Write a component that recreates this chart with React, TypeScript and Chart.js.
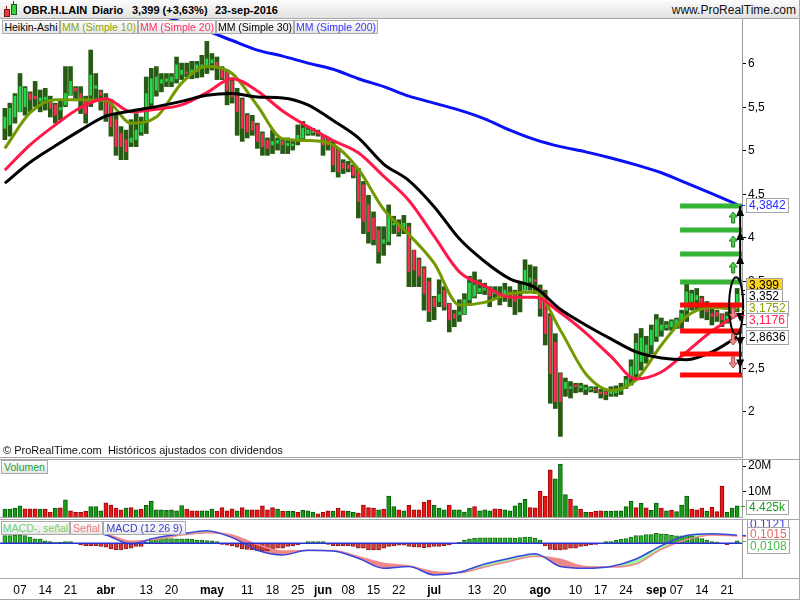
import React, { useEffect, useRef } from "react";
import { Chart, registerables } from "chart.js";

Chart.register(...registerables);

const FONT = '"Liberation Sans", Arial, Helvetica, sans-serif';
Chart.defaults.font.family = FONT;

// ---------- header info ----------
const SYMBOL = "OBR.H.LAIN";
const PERIOD = "Diario";
const LAST_CLOSE = 3.399;
const LAST_CHANGE_PCT = 3.63;
const LAST_DATE_TEXT = "23-sep-2016";

// ---------- trading calendar ----------
const FIRST_DAY = "2016-03-02";
const LAST_DAY = "2016-09-23";
const HOLIDAYS = ["2016-03-25", "2016-03-28"];

function buildDays(): string[] {
  const out: string[] = [];
  const d = new Date(FIRST_DAY + "T00:00:00Z");
  const end = new Date(LAST_DAY + "T00:00:00Z");
  while (d <= end) {
    const iso = d.toISOString().slice(0, 10);
    const wd = d.getUTCDay();
    if (wd !== 0 && wd !== 6 && !HOLIDAYS.includes(iso)) out.push(iso);
    d.setUTCDate(d.getUTCDate() + 1);
  }
  return out;
}
const DAYS = buildDays();
const DAY_INDEX = new Map(DAYS.map((d, i) => [d, i] as [string, number]));

const DATE_TICKS: [string, string][] = [
  ["2016-03-07", "07"], ["2016-03-14", "14"], ["2016-03-21", "21"], ["2016-04-01", "abr"],
  ["2016-04-13", "13"], ["2016-04-20", "20"], ["2016-05-02", "may"], ["2016-05-11", "11"],
  ["2016-05-18", "18"], ["2016-05-25", "25"], ["2016-06-01", "jun"], ["2016-06-08", "08"],
  ["2016-06-15", "15"], ["2016-06-22", "22"], ["2016-07-01", "jul"], ["2016-07-13", "13"],
  ["2016-07-20", "20"], ["2016-08-01", "ago"], ["2016-08-10", "10"], ["2016-08-17", "17"],
  ["2016-08-24", "24"], ["2016-09-01", "sep"], ["2016-09-07", "07"], ["2016-09-14", "14"],
  ["2016-09-21", "21"],
];
const MONTH_LABELS = ["abr", "may", "jun", "jul", "ago", "sep"];

// ---------- Heikin-Ashi candles ----------
const HA_OPEN = [
  5.26, 5.30, 5.39, 5.45, 5.51, 5.66, 5.63, 5.57, 5.59, 5.57,
  5.53, 5.47, 5.53, 5.64, 5.72, 5.66, 5.57, 5.64, 5.72, 5.68,
  5.61, 5.55, 5.36, 5.20, 5.13, 5.10, 5.13, 5.22, 5.36, 5.55,
  5.70, 5.78, 5.80, 5.80, 5.83, 5.88, 5.91, 5.90, 5.91, 5.95,
  5.99, 6.01, 6.02, 5.95, 5.91, 5.80, 5.66, 5.59, 5.41, 5.34,
  5.30, 5.20, 5.12, 5.07, 5.09, 5.11, 5.06, 5.06, 5.13, 5.15,
  5.20, 5.21, 5.21, 5.18, 5.13, 5.07, 5.01, 4.86, 4.84, 4.82,
  4.76, 4.61, 4.38, 4.23, 4.09, 3.94, 3.96, 4.15, 4.15, 4.11,
  4.13, 3.86, 3.75, 3.65, 3.50, 3.31, 3.27, 3.40, 3.24, 3.13,
  3.12, 3.13, 3.29, 3.33, 3.38, 3.40, 3.40, 3.36, 3.36, 3.36,
  3.38, 3.35, 3.30, 3.40, 3.50, 3.52, 3.42, 3.36, 3.10, 2.80,
  2.44, 2.27, 2.27, 2.31, 2.28, 2.26, 2.26, 2.26, 2.23, 2.23,
  2.21, 2.22, 2.24, 2.29, 2.39, 2.44, 2.58, 2.64, 2.77, 2.87,
  2.94, 2.97, 2.98, 3.00, 3.04, 3.17, 3.27, 3.29, 3.31, 3.23,
  3.13, 3.15, 3.12, 3.07, 3.21, 3.19,
];
const HA_HIGH = [
  5.49, 5.55, 5.66, 5.89, 5.74, 5.68, 5.80, 5.70, 5.72, 5.63,
  5.55, 5.59, 5.97, 5.97, 5.74, 5.74, 5.63, 6.16, 5.89, 5.70,
  5.66, 5.59, 5.43, 5.28, 5.24, 5.36, 5.43, 5.39, 5.85, 5.95,
  5.97, 5.89, 5.89, 5.89, 6.08, 6.01, 6.01, 6.03, 6.03, 6.10,
  6.26, 6.12, 6.08, 5.97, 5.93, 5.84, 5.72, 5.61, 5.43, 5.41,
  5.32, 5.22, 5.15, 5.24, 5.15, 5.13, 5.15, 5.11, 5.30, 5.34,
  5.28, 5.26, 5.24, 5.18, 5.15, 5.11, 5.03, 4.90, 4.88, 4.84,
  4.80, 4.65, 4.49, 4.30, 4.13, 4.13, 4.38, 4.25, 4.21, 4.26,
  4.17, 3.86, 3.77, 3.67, 3.54, 3.33, 3.52, 3.44, 3.25, 3.17,
  3.29, 3.36, 3.56, 3.61, 3.52, 3.48, 3.44, 3.44, 3.44, 3.48,
  3.44, 3.40, 3.48, 3.75, 3.69, 3.67, 3.46, 3.40, 3.13, 2.90,
  2.45, 2.39, 2.35, 2.33, 2.33, 2.31, 2.29, 2.29, 2.26, 2.25,
  2.29, 2.30, 2.33, 2.41, 2.60, 2.90, 2.96, 2.87, 3.00, 3.12,
  3.08, 3.04, 3.06, 3.08, 3.17, 3.48, 3.40, 3.42, 3.33, 3.27,
  3.19, 3.17, 3.13, 3.15, 3.23, 3.42,
];
const HA_LOW = [
  5.13, 5.17, 5.32, 5.45, 5.41, 5.45, 5.51, 5.45, 5.47, 5.39,
  5.32, 5.36, 5.51, 5.64, 5.59, 5.43, 5.32, 5.51, 5.59, 5.47,
  5.34, 5.17, 4.95, 4.90, 4.90, 5.05, 5.05, 5.18, 5.20, 5.51,
  5.63, 5.68, 5.74, 5.74, 5.78, 5.82, 5.85, 5.83, 5.84, 5.85,
  5.89, 5.93, 5.82, 5.82, 5.53, 5.55, 5.18, 5.11, 5.15, 5.18,
  5.03, 4.95, 4.95, 4.97, 5.01, 4.97, 4.97, 5.01, 5.07, 5.11,
  5.18, 5.18, 5.17, 4.95, 5.01, 4.76, 4.70, 4.74, 4.76, 4.69,
  4.23, 4.05, 3.94, 3.92, 3.71, 3.80, 3.92, 4.05, 4.02, 4.05,
  3.44, 3.44, 3.44, 3.17, 3.04, 3.06, 3.21, 3.17, 2.92, 2.98,
  3.04, 3.12, 3.23, 3.31, 3.36, 3.35, 3.21, 3.31, 3.23, 3.27,
  3.21, 3.12, 3.15, 3.40, 3.40, 3.36, 3.10, 2.77, 2.10, 2.04,
  1.72, 2.18, 2.16, 2.22, 2.23, 2.20, 2.23, 2.22, 2.16, 2.14,
  2.18, 2.18, 2.20, 2.27, 2.31, 2.37, 2.48, 2.56, 2.67, 2.81,
  2.87, 2.94, 2.94, 2.96, 2.96, 3.04, 3.17, 3.17, 3.08, 3.06,
  3.00, 3.04, 2.98, 3.02, 3.08, 3.15,
];
const HA_CLOSE = [
  5.39, 5.49, 5.63, 5.74, 5.72, 5.59, 5.60, 5.61, 5.62, 5.49,
  5.41, 5.50, 5.66, 5.80, 5.69, 5.59, 5.43, 5.87, 5.75, 5.64,
  5.43, 5.28, 5.05, 5.05, 4.99, 5.15, 5.24, 5.30, 5.66, 5.83,
  5.85, 5.82, 5.83, 5.85, 5.99, 5.93, 5.89, 5.93, 5.99, 5.99,
  6.06, 6.05, 5.98, 5.84, 5.70, 5.62, 5.45, 5.26, 5.22, 5.24,
  5.11, 5.05, 5.03, 5.11, 5.12, 5.07, 5.09, 5.08, 5.18, 5.26,
  5.24, 5.23, 5.20, 5.07, 5.07, 4.84, 4.76, 4.80, 4.80, 4.72,
  4.42, 4.19, 4.07, 3.98, 3.84, 3.98, 4.28, 4.17, 4.07, 4.17,
  3.61, 3.63, 3.56, 3.36, 3.15, 3.21, 3.35, 3.21, 3.06, 3.08,
  3.15, 3.29, 3.48, 3.46, 3.42, 3.42, 3.33, 3.38, 3.33, 3.40,
  3.34, 3.27, 3.32, 3.63, 3.54, 3.50, 3.19, 2.90, 2.44, 2.12,
  2.12, 2.34, 2.29, 2.29, 2.30, 2.28, 2.27, 2.25, 2.21, 2.20,
  2.24, 2.25, 2.28, 2.37, 2.52, 2.79, 2.85, 2.77, 2.94, 3.06,
  3.00, 3.00, 3.04, 3.06, 3.13, 3.38, 3.36, 3.34, 3.23, 3.15,
  3.10, 3.10, 3.06, 3.10, 3.15, 3.352,
];

// ---------- moving averages (read every 5 sessions) ----------
const MA_STEP = 5;
const MA10 = [5.03, 5.44, 5.59, 5.59, 5.58, 5.32, 5.39, 5.78, 5.97, 5.89, 5.52, 5.14, 5.12, 5.07, 4.79, 4.33, 4.04, 3.71, 3.23, 3.26, 3.36, 3.38, 2.94, 2.44, 2.25, 2.37, 2.77, 3.10, 3.20, 3.1752];
const MA20 = [4.78, 5.07, 5.30, 5.50, 5.60, 5.45, 5.48, 5.53, 5.67, 5.83, 5.69, 5.46, 5.28, 5.12, 4.98, 4.71, 4.43, 4.02, 3.61, 3.45, 3.32, 3.32, 3.14, 2.91, 2.64, 2.38, 2.46, 2.69, 2.93, 3.1176];
const MA30 = [4.63, 4.87, 5.06, 5.24, 5.40, 5.46, 5.51, 5.57, 5.64, 5.66, 5.62, 5.61, 5.53, 5.35, 5.15, 4.85, 4.66, 4.36, 3.99, 3.73, 3.53, 3.43, 3.18, 3.00, 2.84, 2.69, 2.62, 2.60, 2.69, 2.8636];
const MA200_FIRST = 30;
const MA200 = [6.59, 6.48, 6.38, 6.27, 6.16, 6.09, 6.01, 5.94, 5.83, 5.74, 5.63, 5.55, 5.47, 5.37, 5.24, 5.13, 5.05, 4.99, 4.92, 4.84, 4.75, 4.63, 4.51, 4.3842];

// ---------- drawn levels (objects on the chart) ----------
const LEVEL_START = 133.7;
const UP_LEVELS = [4.368, 4.092, 3.816, 3.494];
const DOWN_LEVELS = [3.23, 2.931, 2.667, 2.425];
const ELLIPSE_LO = 2.89;
const ELLIPSE_HI = 3.55;

// ---------- volume (millions) ----------
const VOLUME = [
  3.1, 3.1, 3.5, 4.4, 3.2, 3.2, 3.2, 3.1, 3.1, 1.8,
  3.5, 3.6, 6.7, 2.4, 1.8, 1.8, 2.2, 4.1, 4.1, 2.4,
  5.6, 4.7, 3.5, 2.8, 3.5, 3.7, 2.8, 3.1, 4.6, 6.2,
  2.8, 2.8, 2.6, 2.8, 2.4, 4.5, 3.1, 2.4, 2.4, 2.4,
  2.4, 3.1, 2.2, 3.7, 2.4, 3.2, 2.4, 3.7, 2.8, 2.8,
  2.8, 4.4, 2.8, 3.7, 3.1, 2.2, 2.2, 2.2, 1.8, 2.6,
  2.4, 1.9, 1.2, 1.8, 2.4, 2.2, 3.5, 2.4, 2.2, 1.8,
  1.5, 4.7, 3.7, 3.5, 2.8, 3.1, 8.2, 4.1, 2.8, 2.4,
  4.6, 2.8, 2.8, 5.9, 6.5, 4.6, 3.5, 2.8, 4.7, 2.8,
  2.8, 1.9, 3.5, 4.1, 2.4, 2.8, 2.4, 3.2, 3.1, 2.8,
  2.4, 4.4, 5.5, 6.9, 3.7, 3.6, 10.1, 8.2, 18.5, 15.0,
  20.8, 8.8, 6.9, 4.4, 3.1, 1.8, 1.8, 2.2, 2.4, 2.2,
  2.2, 2.4, 2.4, 4.1, 6.2, 3.7, 5.4, 3.6, 2.6, 5.5,
  3.5, 2.4, 2.6, 2.1, 4.7, 8.2, 3.1, 2.8, 3.5, 2.2,
  3.8, 2.1, 12.1, 1.8, 3.5, 4.425,
];
const VOLUME_UP =
  "ggggrrrgrr" + "grgrrrrggg" + "rrrrgrgrgg" + "ggggggrrrg" + "ggrrrrgrgr" +
  "rrrrgrggrg" + "ggrrrgrrgg" + "rrrrgrggrg" + "rrrrrgggrg" + "gggrgggrrg" +
  "ggggrrrrrg" + "ggrgrgrrrg" + "gggggrgrgg" + "rgrgggrrrg" + "rrrggg";

// ---------- MACD (12 26 9) ----------
const MACD = [0.20, 0.21, 0.20, 0.17, 0.115, -0.01, 0.078, 0.13, 0.174, 0.078, -0.097, -0.161, -0.097, -0.106, -0.207, -0.345, -0.322, -0.437, -0.40, -0.285, -0.207, -0.143, -0.32, -0.345, -0.32, -0.216, -0.032, 0.106, 0.133, 0.1121];
const SIGNAL = [0.17, 0.19, 0.20, 0.18, 0.13, 0.028, 0.055, 0.115, 0.147, 0.115, -0.018, -0.106, -0.10, -0.10, -0.184, -0.276, -0.313, -0.391, -0.405, -0.327, -0.248, -0.179, -0.22, -0.322, -0.327, -0.285, -0.083, 0.051, 0.115, 0.1015];
const HIST = [
  0.035, 0.035, 0.038, 0.038, 0.035, 0.028, 0.020, 0.020, 0.011, 0.008,
  0.003, 0.004, 0.008, 0.008, 0.000, -0.008, -0.011, -0.011, -0.011, -0.015,
  -0.018, -0.026, -0.031, -0.031, -0.026, -0.023, -0.015, -0.015, 0.005, 0.022,
  0.022, 0.022, 0.022, 0.022, 0.020, 0.020, 0.020, 0.018, 0.015, 0.015,
  0.012, 0.011, 0.008, -0.005, -0.009, -0.012, -0.018, -0.026, -0.028, -0.031,
  -0.034, -0.035, -0.035, -0.026, -0.023, -0.023, -0.015, -0.012, -0.008, -0.002,
  0.008, 0.008, 0.008, 0.008, -0.005, -0.011, -0.011, -0.011, -0.011, -0.015,
  -0.023, -0.023, -0.031, -0.031, -0.031, -0.023, -0.015, -0.012, -0.009, -0.009,
  -0.014, -0.017, -0.018, -0.020, -0.018, -0.015, -0.014, -0.011, -0.008, -0.002,
  0.004, 0.015, 0.020, 0.023, 0.025, 0.025, 0.025, 0.025, 0.025, 0.025,
  0.025, 0.023, 0.026, 0.028, 0.028, 0.023, 0.015, -0.012, -0.028, -0.031,
  -0.031, -0.028, -0.023, -0.023, -0.015, -0.012, -0.008, -0.005, -0.001, 0.008,
  0.008, 0.015, 0.018, 0.022, 0.028, 0.035, 0.035, 0.040, 0.040, 0.046,
  0.043, 0.041, 0.037, 0.034, 0.034, 0.037, 0.034, 0.029, 0.022, 0.015,
  0.008, 0.005, -0.001, -0.006, 0.002, 0.0108,
];

// ---------- axis ticks ----------
const PRICE_TICKS = [2, 2.5, 3, 3.5, 4, 4.5, 5, 5.5, 6];
const VOLUME_TICKS = [10, 20];

// ---------- layout ----------
const AXIS_W = 58;
const X_MIN = -0.96;
const X_MAX = DAYS.length - 1 + 0.96;
const P_MIN = 1.471, P_MAX = 6.517;
const V_MAX = 22.75;
const M_MIN = -0.479, M_MAX = 0.335;
const H_MIN = -0.1597, H_MAX = 0.1117;

const COL = {
  wick: "#275b13", up: "#1fdc48", down: "#ff2858",
  ma10: "#729a00", ma20: "#ff1848", ma30: "#000000", ma200: "#0a10f8",
  lvUp: "#36b236", lvDown: "#ff0808",
  volUp: "#159c15", volUpEdge: "#0b5a0b", volDown: "#ee1515", volDownEdge: "#990a0a",
  macd: "#3446e0", signal: "#f28a8a", fillUp: "#a2f0a2", fillDown: "#ec8888",
  histUp: "#2fb52f", histUpEdge: "#147014", histDown: "#d83838", histDownEdge: "#8a1c1c",
  zero: "#2a32d0", axis: "#9a9a9a",
};

const XTICKS = DATE_TICKS.map(([d, t]) => ({ value: DAY_INDEX.get(d) as number, label: t }));
const sampled = (vals: number[], first: number, step: number) =>
  vals.map((v, k) => ({ x: first + k * step, y: v }));
const fmt = (v: number, d: number) => v.toFixed(d).replace(".", ",");

function fixY(s: any) {
  s.width = AXIS_W;
  s.paddingTop = 0;
  s.paddingBottom = 0;
}

function valueBox(ctx: CanvasRenderingContext2D, left: number, yNat: number, dy: number, text: string, color: string, bg = "#ffffff") {
  ctx.save();
  ctx.font = `12px ${FONT}`;
  ctx.strokeStyle = color;
  ctx.lineWidth = 1;
  ctx.beginPath();
  ctx.moveTo(left - 5, Math.round(yNat) + 0.5);
  ctx.lineTo(left - 1, Math.round(yNat) + 0.5);
  ctx.stroke();
  const w = Math.ceil(ctx.measureText(text).width) + 5;
  const h = 14;
  const top = Math.round(yNat + dy - h / 2) + 0.5;
  ctx.fillStyle = bg;
  ctx.fillRect(left + 0.5, top, w, h);
  ctx.strokeStyle = "#a4a4a4";
  ctx.strokeRect(left + 0.5, top, w, h);
  ctx.fillStyle = color;
  ctx.textAlign = "left";
  ctx.textBaseline = "middle";
  ctx.fillText(text, left + 3, top + h / 2 + 0.5);
  ctx.restore();
}

function arrowHead(ctx: CanvasRenderingContext2D, x: number, y: number, dir: number, w: number, h: number) {
  ctx.beginPath();
  ctx.moveTo(x, y);
  ctx.lineTo(x - w / 2, y - dir * h);
  ctx.lineTo(x + w / 2, y - dir * h);
  ctx.closePath();
  ctx.fill();
}

function iconArrow(ctx: CanvasRenderingContext2D, x: number, y: number, dir: number, fill: string, edge: string) {
  ctx.save();
  ctx.fillStyle = fill;
  ctx.strokeStyle = edge;
  ctx.lineWidth = 1;
  ctx.beginPath();
  const tip = y + dir * 6;
  ctx.moveTo(x, tip);
  ctx.lineTo(x - 4, tip - dir * 5);
  ctx.lineTo(x - 1.5, tip - dir * 5);
  ctx.lineTo(x - 1.5, y - dir * 5);
  ctx.lineTo(x + 1.5, y - dir * 5);
  ctx.lineTo(x + 1.5, tip - dir * 5);
  ctx.lineTo(x + 4, tip - dir * 5);
  ctx.closePath();
  ctx.fill();
  ctx.stroke();
  ctx.restore();
}

const priceDecor = {
  id: "priceDecor",
  afterDatasetsDraw(chart: any) {
    const { ctx, scales } = chart;
    const x = scales.x, y = scales.y;
    const last = DAYS.length - 1;
    const cx = x.getPixelForValue(last);
    ctx.save();
    const yTop = y.getPixelForValue(ELLIPSE_HI), yBot = y.getPixelForValue(ELLIPSE_LO);
    ctx.strokeStyle = "#000";
    ctx.lineWidth = 2;
    ctx.beginPath();
    ctx.ellipse(cx - 1, (yTop + yBot) / 2, 7, (yBot - yTop) / 2, 0, 0, Math.PI * 2);
    ctx.stroke();
    const ax = cx + 3;
    ctx.fillStyle = "#000";
    ctx.beginPath();
    ctx.moveTo(ax, y.getPixelForValue(UP_LEVELS[UP_LEVELS.length - 1]));
    ctx.lineTo(ax, y.getPixelForValue(UP_LEVELS[0]));
    ctx.stroke();
    UP_LEVELS.slice(0, -1).forEach((lv) => arrowHead(ctx, ax, y.getPixelForValue(lv) + 1, -1, 8, 9));
    ctx.beginPath();
    ctx.moveTo(ax, yBot - 4);
    ctx.lineTo(ax, y.getPixelForValue(DOWN_LEVELS[DOWN_LEVELS.length - 1]) - 2);
    ctx.stroke();
    for (let k = 0; k < DOWN_LEVELS.length - 1; k++) {
      const ym = (y.getPixelForValue(DOWN_LEVELS[k]) + y.getPixelForValue(DOWN_LEVELS[k + 1])) / 2;
      arrowHead(ctx, ax, ym + 4, 1, 8, 9);
    }
    for (let k = 0; k < UP_LEVELS.length - 1; k++) {
      const ym = (y.getPixelForValue(UP_LEVELS[k]) + y.getPixelForValue(UP_LEVELS[k + 1])) / 2;
      iconArrow(ctx, cx - 4, ym, -1, "#4fd14f", "#1c7a1c");
    }
    for (let k = 0; k < DOWN_LEVELS.length - 1; k++) {
      const ym = y.getPixelForValue(DOWN_LEVELS[k]) + 8;
      iconArrow(ctx, cx - 4, ym, 1, "#f08c8c", "#b04848");
    }
    ctx.restore();
  },
  afterDraw(chart: any) {
    const { ctx, scales, chartArea } = chart;
    const y = scales.y;
    const left = chartArea.right + 4;
    const labels = [
      { v: MA200[MA200.length - 1], d: 4, color: "#2a2aff", bg: "#fff", dy: 0 },
      { v: LAST_CLOSE, d: 3, color: "#000", bg: "#ffd21e", dy: -5 },
      { v: HA_CLOSE[HA_CLOSE.length - 1], d: 3, color: "#000", bg: "#fff", dy: 2 },
      { v: MA10[MA10.length - 1], d: 4, color: "#8aa200", bg: "#fff", dy: -2 },
      { v: MA20[MA20.length - 1], d: 4, color: "#ff2050", bg: "#fff", dy: 5 },
      { v: MA30[MA30.length - 1], d: 4, color: "#000", bg: "#fff", dy: 0 },
    ];
    labels.forEach((l) => valueBox(ctx, left, y.getPixelForValue(l.v), l.dy, fmt(l.v, l.d), l.color, l.bg));
  },
};

const volumeDecor = {
  id: "volumeDecor",
  afterDraw(chart: any) {
    const { ctx, scales, chartArea } = chart;
    const v = VOLUME[VOLUME.length - 1];
    const txt = Math.round(v * 1000).toLocaleString("de-DE") + "k";
    valueBox(ctx, chartArea.right + 4, scales.y.getPixelForValue(v), 1, txt, "#1c9c1c");
  },
};

const macdDecor = {
  id: "macdDecor",
  afterDraw(chart: any) {
    const { ctx, scales, chartArea } = chart;
    const left = chartArea.right + 5;
    const m = MACD[MACD.length - 1], s = SIGNAL[SIGNAL.length - 1], h = HIST[HIST.length - 1];
    valueBox(ctx, left, scales.y.getPixelForValue(m), -11, fmt(m, 4), "#3a3ae0");
    valueBox(ctx, left, scales.y.getPixelForValue(s), -2, fmt(s, 4), "#e86a6a");
    valueBox(ctx, left, scales.yh.getPixelForValue(h), 5, fmt(h, 4), "#44bb44");
  },
};

const baseOpts = {
  animation: false as const,
  responsive: false,
  devicePixelRatio: 1,
  events: [] as any[],
  layout: { padding: 0 },
};

function lineDs(label: string, data: any[], color: string, width: number, order: number) {
  return {
    type: "line" as const, label, data, borderColor: color, borderWidth: width,
    pointRadius: 0, cubicInterpolationMode: "monotone" as const, fill: false, order,
  };
}

function makePrice(canvas: HTMLCanvasElement) {
  const datasets: any[] = [
    {
      type: "bar", label: "wick",
      data: DAYS.map((_, i) => ({ x: i, y: [HA_LOW[i], HA_HIGH[i]] })),
      backgroundColor: COL.wick, barThickness: 4, grouped: false, order: 20,
    },
    {
      type: "bar", label: "body",
      data: DAYS.map((_, i) => ({ x: i, y: [Math.min(HA_OPEN[i], HA_CLOSE[i]), Math.max(HA_OPEN[i], HA_CLOSE[i])] })),
      backgroundColor: DAYS.map((_, i) => (HA_CLOSE[i] >= HA_OPEN[i] ? COL.up : COL.down)),
      barThickness: 2, grouped: false, minBarLength: 1, order: 19,
    },
    lineDs("MM200", sampled(MA200, MA200_FIRST, MA_STEP), COL.ma200, 3, 5),
    lineDs("MM10", sampled(MA10, 0, MA_STEP), COL.ma10, 3, 4),
    lineDs("MM20", sampled(MA20, 0, MA_STEP), COL.ma20, 3, 3),
    lineDs("MM30", sampled(MA30, 0, MA_STEP), COL.ma30, 3, 2),
  ];
  [...UP_LEVELS.map((v) => [v, COL.lvUp]), ...DOWN_LEVELS.map((v) => [v, COL.lvDown])].forEach(([v, c]) => {
    datasets.push({
      type: "line", label: "level", data: [{ x: LEVEL_START, y: v }, { x: X_MAX, y: v }],
      borderColor: c, borderWidth: 5, pointRadius: 0, borderCapStyle: "butt", order: 1,
    });
  });
  return new Chart(canvas, {
    type: "bar",
    data: { datasets },
    options: {
      ...baseOpts,
      plugins: { legend: { display: false }, tooltip: { enabled: false } },
      scales: {
        x: { type: "linear", min: X_MIN, max: X_MAX, display: false, offset: false },
        y: {
          type: "linear", position: "right", min: P_MIN, max: P_MAX,
          afterFit: fixY,
          afterBuildTicks: (s: any) => { s.ticks = PRICE_TICKS.map((v) => ({ value: v })); },
          ticks: { color: "#000", font: { size: 12, family: FONT }, padding: 2, callback: (v: any) => String(v).replace(".", ",") },
          grid: { drawOnChartArea: false, drawTicks: true, tickLength: 4, color: "#000" },
          border: { display: true, color: COL.axis },
        },
      },
    } as any,
    plugins: [priceDecor],
  });
}

function makeVolume(canvas: HTMLCanvasElement) {
  return new Chart(canvas, {
    type: "bar",
    data: {
      datasets: [{
        label: "Volumen",
        data: VOLUME.map((v, i) => ({ x: i, y: v })),
        backgroundColor: VOLUME.map((_, i) => (VOLUME_UP[i] === "g" ? COL.volUp : COL.volDown)),
        borderColor: VOLUME.map((_, i) => (VOLUME_UP[i] === "g" ? COL.volUpEdge : COL.volDownEdge)),
        borderWidth: 1, barThickness: 4, grouped: false,
      }],
    },
    options: {
      ...baseOpts,
      plugins: { legend: { display: false }, tooltip: { enabled: false } },
      scales: {
        x: { type: "linear", min: X_MIN, max: X_MAX, display: false, offset: false },
        y: {
          type: "linear", position: "right", min: 0, max: V_MAX,
          afterFit: fixY,
          afterBuildTicks: (s: any) => { s.ticks = VOLUME_TICKS.map((v) => ({ value: v })); },
          ticks: { color: "#000", font: { size: 12, family: FONT }, padding: 2, callback: (v: any) => v + "M" },
          grid: { drawOnChartArea: false, drawTicks: true, tickLength: 4, color: "#000" },
          border: { display: true, color: COL.axis },
        },
      },
    } as any,
    plugins: [volumeDecor],
  });
}

function makeMacd(canvas: HTMLCanvasElement) {
  return new Chart(canvas, {
    type: "bar",
    data: {
      datasets: [
        { type: "line", label: "zero", yAxisID: "y", data: [{ x: X_MIN, y: 0 }, { x: X_MAX, y: 0 }], borderColor: COL.zero, borderWidth: 1.5, pointRadius: 0, order: 0 },
        {
          type: "line", label: "MACD", yAxisID: "y", data: sampled(MACD, 0, MA_STEP),
          borderColor: COL.macd, borderWidth: 1.5, pointRadius: 0, cubicInterpolationMode: "monotone",
          fill: { target: 2, above: COL.fillUp, below: COL.fillDown }, order: 1,
        },
        { type: "line", label: "Señal", yAxisID: "y", data: sampled(SIGNAL, 0, MA_STEP), borderColor: COL.signal, borderWidth: 1.5, pointRadius: 0, cubicInterpolationMode: "monotone", fill: false, order: 2 },
        {
          type: "bar", label: "MACD-, señal", yAxisID: "yh",
          data: HIST.map((v, i) => ({ x: i, y: v })),
          backgroundColor: HIST.map((v) => (v >= 0 ? COL.histUp : COL.histDown)),
          borderColor: HIST.map((v) => (v >= 0 ? COL.histUpEdge : COL.histDownEdge)),
          borderWidth: 1, barThickness: 4, grouped: false, order: 3,
        },
      ],
    },
    options: {
      ...baseOpts,
      plugins: { legend: { display: false }, tooltip: { enabled: false }, filler: { drawTime: "beforeDatasetsDraw" } },
      scales: {
        x: {
          type: "linear", position: "bottom", min: X_MIN, max: X_MAX, offset: false,
          afterBuildTicks: (s: any) => { s.ticks = XTICKS.map((t) => ({ value: t.value })); },
          afterFit: (s: any) => { s.height = 22; s.paddingLeft = 0; s.paddingRight = 0; },
          grid: { display: false, drawTicks: false },
          border: { display: false },
          ticks: {
            autoSkip: false, maxRotation: 0, minRotation: 0, padding: 5, color: "#000",
            callback: (v: any) => { const t = XTICKS.find((k) => k.value === v); return t ? t.label : ""; },
            font: (c: any) => {
              const t = XTICKS.find((k) => k.value === (c.tick ? c.tick.value : -1));
              return { family: FONT, size: 12, weight: t && MONTH_LABELS.includes(t.label) ? "bold" : "normal" };
            },
          },
        },
        y: {
          type: "linear", position: "right", min: M_MIN, max: M_MAX,
          afterFit: fixY,
          ticks: { display: false },
          grid: { drawOnChartArea: false, drawTicks: false },
          border: { display: true, color: COL.axis },
        },
        yh: { type: "linear", position: "right", min: H_MIN, max: H_MAX, display: false },
      },
    } as any,
    plugins: [macdDecor],
  });
}

const legendStyle = (left: number, top: number, width: number, color: string): React.CSSProperties => ({
  position: "absolute", left, top, width, height: 14, boxSizing: "border-box",
  border: "1px solid #ababab", background: "linear-gradient(#fdfdfd,#e6e6e6)", color,
  fontSize: 10.5, lineHeight: "12px", textAlign: "center", whiteSpace: "nowrap", overflow: "hidden",
  fontFamily: FONT, zIndex: 5,
});
const hline = (top: number, left: number, width: number): React.CSSProperties => ({
  position: "absolute", top, left, width, height: 1, background: "#a6a6a6", zIndex: 4,
});
const headText: React.CSSProperties = { position: "absolute", top: 2, fontSize: 11, fontWeight: "bold", lineHeight: "16px", color: "#000" };

export default function App() {
  const pRef = useRef<HTMLCanvasElement>(null);
  const vRef = useRef<HTMLCanvasElement>(null);
  const mRef = useRef<HTMLCanvasElement>(null);

  useEffect(() => {
    const charts = [makePrice(pRef.current!), makeVolume(vRef.current!), makeMacd(mRef.current!)];
    return () => charts.forEach((c) => c.destroy());
  }, []);

  return (
    <div style={{ position: "absolute", left: 0, top: 0, width: 800, height: 600, background: "#fff", overflow: "hidden", fontFamily: FONT }}>
      <div style={{ position: "absolute", left: 0, top: 0, width: 800, height: 18, background: "linear-gradient(#fcfcfc,#e2e2e2)", borderBottom: "1px solid #a6a6a6", zIndex: 3 }}>
        <div style={{ position: "absolute", left: 4, top: 9, width: 4, height: 6, background: "#e8383c", border: "1px solid #7a1616" }} />
        <div style={{ position: "absolute", left: 6, top: 6, width: 1, height: 3, background: "#7a1616" }} />
        <div style={{ position: "absolute", left: 11, top: 4, width: 4, height: 9, background: "#36d436", border: "1px solid #1a5a1a" }} />
        <div style={{ position: "absolute", left: 13, top: 1, width: 1, height: 3, background: "#1a5a1a" }} />
        <span style={{ ...headText, left: 23 }}>{SYMBOL}</span>
        <span style={{ ...headText, left: 92 }}>{PERIOD}</span>
        <span style={{ ...headText, left: 132 }}>{fmt(LAST_CLOSE, 3)} (+{fmt(LAST_CHANGE_PCT, 2)}%)</span>
        <span style={{ ...headText, left: 215 }}>{LAST_DATE_TEXT}</span>
        <span style={{ position: "absolute", right: 4, top: 2, fontSize: 12, lineHeight: "16px", color: "#111" }}>www.ProRealTime.com</span>
      </div>

      <canvas ref={pRef} width={800} height={439} style={{ position: "absolute", left: 0, top: 19, width: 800, height: 439 }} />
      <canvas ref={vRef} width={800} height={58} style={{ position: "absolute", left: 0, top: 459, width: 800, height: 58 }} />
      <canvas ref={mRef} width={800} height={81} style={{ position: "absolute", left: 0, top: 519, width: 800, height: 81 }} />

      <div style={legendStyle(2, 20, 58, "#000")}>Heikin-Ashi</div>
      <div style={legendStyle(60, 20, 78, "#8ea600")}>MM (Simple 10)</div>
      <div style={legendStyle(138, 20, 78, "#ff3060")}>MM (Simple 20)</div>
      <div style={legendStyle(216, 20, 78, "#000")}>MM (Simple 30)</div>
      <div style={legendStyle(294, 20, 84, "#3a3aff")}>MM (Simple 200)</div>

      <div style={{ position: "absolute", left: 3, top: 443, fontSize: 11, lineHeight: "14px", color: "#111", zIndex: 5 }}>
        © ProRealTime.com&nbsp; Históricos ajustados con dividendos
      </div>

      <div style={legendStyle(1, 460, 47, "#1e9e1e")}>Volumen</div>
      <div style={legendStyle(1, 521, 69, "#6fd46f")}>MACD-, señal</div>
      <div style={legendStyle(70, 521, 33, "#ec7a7a")}>Señal</div>
      <div style={legendStyle(103, 521, 83, "#3c3cd0")}>MACD (12 26 9)</div>

      <div style={hline(457, 0, 743)} />
      <div style={hline(459, 0, 800)} />
      <div style={hline(517, 0, 743)} />
      <div style={hline(519, 0, 800)} />
      <div style={hline(578, 0, 800)} />
      <div style={hline(599, 0, 800)} />
      <div style={{ position: "absolute", left: 799, top: 0, width: 1, height: 600, background: "#a6a6a6", zIndex: 4 }} />
    </div>
  );
}
